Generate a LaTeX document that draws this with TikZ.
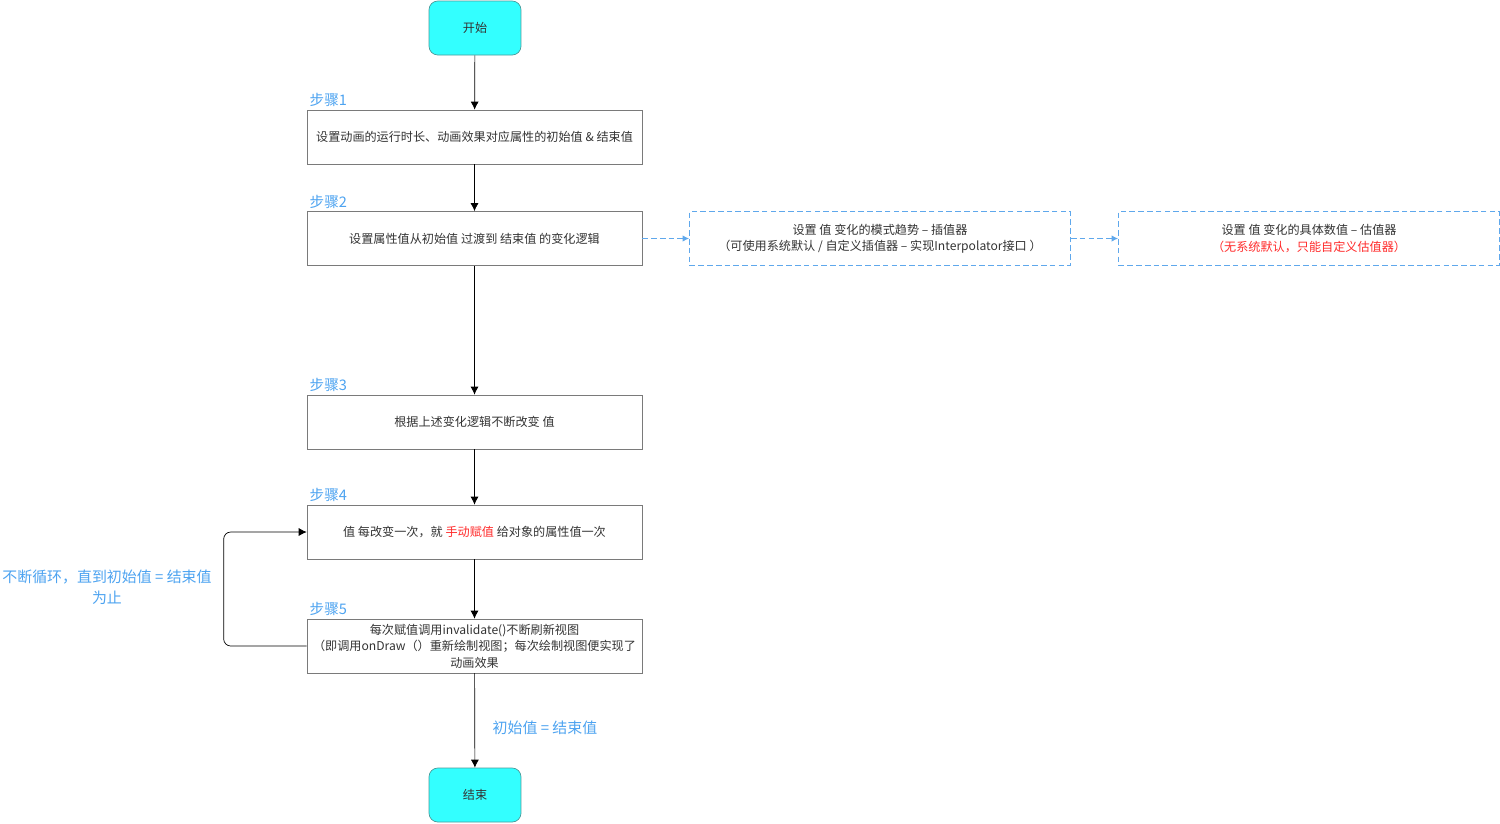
\documentclass[tikz,border=0pt]{standalone}
\usepackage{fontspec}
\setmainfont{Noto Sans CJK SC}
\usepackage{tikz}
\usetikzlibrary{arrows.meta}
\usetikzlibrary{shapes}
\usepackage{xcolor}
\definecolor{termfill}{HTML}{33FFFF}
\definecolor{termline}{HTML}{4A9A9A}
\definecolor{boxline}{HTML}{7A7A7A}
\definecolor{textgray}{HTML}{333333}
\definecolor{stepblue}{HTML}{4DA3F0}
\definecolor{dashblue}{HTML}{5FA8EC}
\definecolor{hotred}{HTML}{FF2A2A}

\begin{document}
\begin{tikzpicture}[x=0.02cm, y=-0.02cm,
  termnode/.style={rectangle, rounded corners=5pt, draw=termline, fill=termfill, minimum width=1.84cm, minimum height=1.08cm, inner sep=0pt, text=textgray, font=\fontsize{6.9}{9.4}\selectfont},
  stepnode/.style={rectangle, draw=boxline, minimum width=6.7cm, minimum height=1.08cm, inner sep=0pt, align=center, text=textgray, font=\fontsize{6.9}{9.4}\selectfont},
  dashnode/.style={rectangle, draw=dashblue, line width=0.55pt, dash pattern=on 3.2pt off 1.8pt, minimum width=7.62cm, minimum height=1.08cm, inner sep=0pt, align=center, text=textgray, font=\fontsize{6.9}{9.4}\selectfont},
  steplabel/.style={anchor=south west, inner sep=1.5pt, text=stepblue, font=\fontsize{8.3}{10}\selectfont},
  bluetext/.style={text=stepblue, align=center, font=\fontsize{8.5}{12}\selectfont}]
\tikzset{edge/.style = {-{Latex[width=1.6mm, length=1.6mm]}, black}}
\tikzset{dashedge/.style = {-{Latex[width=1.3mm, length=1.3mm]}, dashblue, line width=0.55pt, dash pattern=on 3.2pt off 1.8pt}}
\useasboundingbox (0,0) rectangle (1500,823);
\node[termnode] (start) at (475,28) {开始};
\node[stepnode] (s1) at (474.5,137) {设置动画的运行时长、动画效果对应属性的初始值 \& 结束值};
\node[stepnode] (s2) at (474.5,238.5) {设置属性值从初始值 过渡到 结束值 的变化逻辑};
\node[dashnode] (interp) at (880,238.5) {设置 值 变化的模式趋势 – 插值器\\（可使用系统默认 / 自定义插值器 – 实现Interpolator接口 ）};
\node[dashnode] (eval) at (1309,238.5) {设置 值 变化的具体数值 – 估值器\\\textcolor{hotred}{（无系统默认，只能自定义估值器）}};
\node[stepnode] (s3) at (474.5,422) {根据上述变化逻辑不断改变 值};
\node[stepnode] (s4) at (474.5,532) {值 每改变一次，就 \textcolor{hotred}{手动赋值} 给对象的属性值一次};
\node[stepnode] (s5) at (474.5,646) {每次赋值调用invalidate()不断刷新视图\\（即调用onDraw（）重新绘制视图；每次绘制视图便实现了\\动画效果};
\node[termnode] (stop) at (475,795) {结束};
\node[steplabel] (l1) at (s1.north west) {步骤1};
\node[steplabel] (l2) at (s2.north west) {步骤2};
\node[steplabel] (l3) at (s3.north west) {步骤3};
\node[steplabel] (l4) at (s4.north west) {步骤4};
\node[steplabel] (l5) at (s5.north west) {步骤5};
\node[bluetext] (loop) at (107,587) {不断循环，直到初始值\ =\ 结束值\\为止};
\node[bluetext] (done) at (545,728) {初始值\ =\ 结束值};
\draw[edge] (start) to (s1);
\draw[edge] (s1) to (s2);
\draw[edge] (s2) to (s3);
\draw[edge] (s3) to (s4);
\draw[edge] (s4) to (s5);
\draw[edge] (s5) to (stop);
\draw[edge, rounded corners=4pt] (s5.west) -- ++(-83,0) |- (s4.west);
\draw[dashedge] (s2) to (interp);
\draw[dashedge] (interp) to (eval);
\end{tikzpicture}
\end{document}
